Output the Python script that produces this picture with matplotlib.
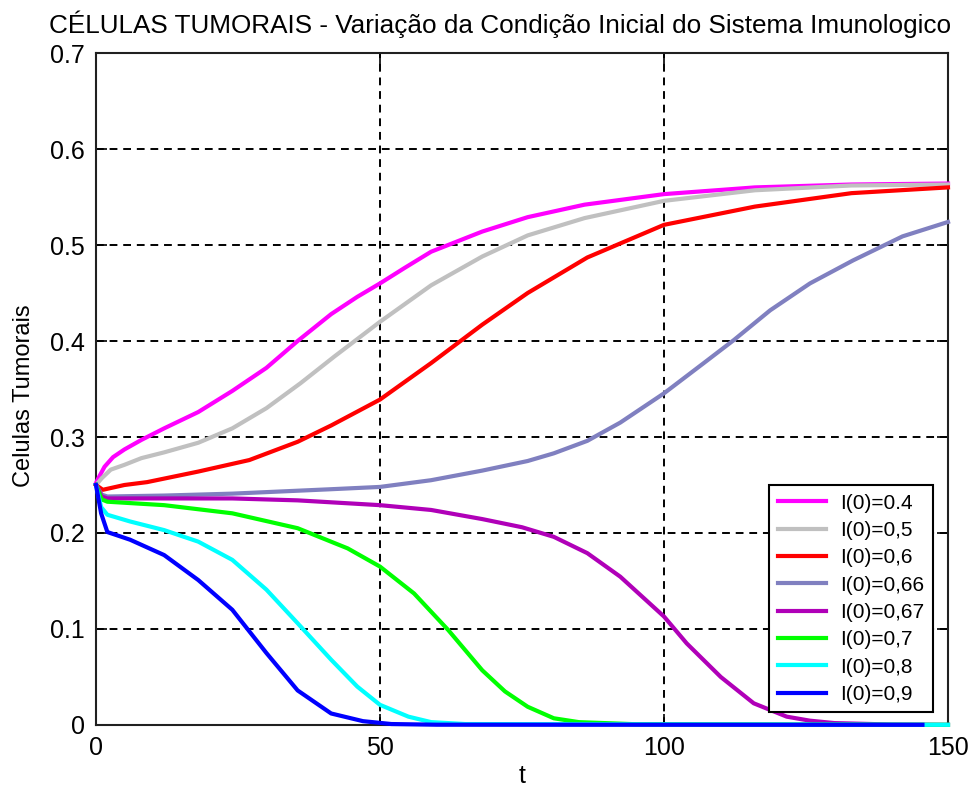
import matplotlib
matplotlib.use('Agg')
import matplotlib.pyplot as plt

plt.rcParams['font.family'] = ['Liberation Sans', 'DejaVu Sans']

# Celulas tumorais T(t) para varias condicoes iniciais do sistema imunologico I(0)
t_04 = [0, 0.5, 1.5, 3, 5, 8, 12, 18, 24, 30, 35.5, 41.4, 46, 50, 54.3, 59, 68, 76, 86, 100,
        116, 133, 150]
T_04 = [0.252, 0.258, 0.269, 0.279, 0.287, 0.297, 0.309, 0.326, 0.348, 0.372, 0.400, 0.428,
        0.446, 0.460, 0.476, 0.493, 0.514, 0.529, 0.542, 0.553, 0.560, 0.563, 0.564]

t_05 = [0, 1, 2.6, 5, 8, 12, 18, 24, 30, 36, 42, 50, 59, 68, 76, 86, 100, 116, 133, 150]
T_05 = [0.250, 0.257, 0.266, 0.271, 0.278, 0.284, 0.294, 0.309, 0.330, 0.356, 0.384, 0.420,
        0.458, 0.488, 0.510, 0.528, 0.546, 0.557, 0.562, 0.563]

t_06 = [0, 1.2, 5, 9, 18, 27, 35.5, 41.4, 50, 59, 68, 76, 86.5, 100, 116, 133, 150]
T_06 = [0.250, 0.245, 0.250, 0.253, 0.264, 0.276, 0.295, 0.312, 0.339, 0.377, 0.417, 0.450,
        0.487, 0.521, 0.540, 0.554, 0.560]

t_066 = [0, 1, 2, 12, 24, 41, 50, 59, 68, 76, 80.6, 86.5, 92.3, 100, 107, 112.3, 118.7,
         125.7, 133.3, 142, 150]
T_066 = [0.250, 0.240, 0.238, 0.239, 0.241, 0.2455, 0.248, 0.255, 0.265, 0.275, 0.283, 0.296,
         0.315, 0.3455, 0.377, 0.401, 0.432, 0.460, 0.484, 0.509, 0.524]

t_067 = [0, 1, 2, 24, 35.5, 50, 59, 68, 75, 80.6, 86.5, 92.3, 100, 104, 110, 115.8, 121.6,
         125.7, 130, 140, 150]
T_067 = [0.250, 0.238, 0.236, 0.236, 0.234, 0.229, 0.224, 0.2145, 0.206, 0.196, 0.179, 0.1545,
         0.113, 0.085, 0.050, 0.0226, 0.0087, 0.0045, 0.002, 0.0005, 0.0002]

t_07 = [0, 1, 2, 12, 24, 35.5, 44.3, 50, 56, 62, 68, 72, 76, 80.6, 85, 95, 150]
T_07 = [0.250, 0.235, 0.2326, 0.229, 0.2205, 0.205, 0.184, 0.165, 0.137, 0.099, 0.057, 0.035,
        0.019, 0.007, 0.003, 0.0008, 0.0002]

t_08 = [0, 0.9, 2, 6, 12, 18, 24, 30, 35.5, 41.4, 46, 50, 55, 59, 65, 150]
T_08 = [0.250, 0.227, 0.219, 0.212, 0.203, 0.191, 0.172, 0.141, 0.106, 0.068, 0.040, 0.021,
        0.0087, 0.003, 0.001, 0.0002]

t_09 = [0, 0.9, 2, 6, 12, 18, 24, 30, 35.5, 41.4, 47, 52, 60, 145.5]
T_09 = [0.250, 0.2205, 0.201, 0.193, 0.177, 0.151, 0.120, 0.075, 0.036, 0.012, 0.004, 0.001,
        0.0003, 0.0002]

labels = ['I(0)=0.4', 'I(0)=0,5', 'I(0)=0,6', 'I(0)=0,66', 'I(0)=0,67',
          'I(0)=0,7', 'I(0)=0,8', 'I(0)=0,9']
cores = ['#ff00ff', '#c0c0c0', '#ff0000', '#8080c0', '#b000b8',
         '#00ff00', '#00ffff', '#0000ff']
series = [(t_04, T_04), (t_05, T_05), (t_06, T_06), (t_066, T_066), (t_067, T_067),
          (t_07, T_07), (t_08, T_08), (t_09, T_09)]

fig = plt.figure(figsize=(9.71, 7.89), dpi=100)
ax = fig.add_axes([96/971, 1 - 725/789, (948-96)/971, (725-53)/789])

for (t, T), c, lab in zip(series, cores, labels):
    ax.plot(t, T, color=c, lw=3, label=lab, clip_on=False, zorder=3)

ax.set_xlim(0, 150)
ax.set_ylim(0, 0.7)
ax.set_xticks([0, 50, 100, 150])
ax.set_yticks([0, 0.1, 0.2, 0.3, 0.4, 0.5, 0.6, 0.7])
ax.set_yticklabels(['0', '0.1', '0.2', '0.3', '0.4', '0.5', '0.6', '0.7'])
ax.grid(True, color='black', linestyle=(0, (4, 3)), lw=1.4)
ax.tick_params(direction='in', length=8, width=1.2, top=True, right=True,
               labelsize=18, pad=8)
for s in ax.spines.values():
    s.set_linewidth(1.5)
    s.set_color('#202020')

fig.text(500/971, 1 - 33/789,
         'CÉLULAS TUMORAIS - Variação da Condição Inicial do Sistema Imunologico',
         fontsize=18.8, ha='center', va='baseline')
ax.set_xlabel('t', fontsize=18, labelpad=3)
ax.set_ylabel('Celulas Tumorais', fontsize=17)
ax.yaxis.set_label_coords(-0.072, 0.49)

leg = ax.legend(loc='lower right', bbox_to_anchor=(0.982, 0.019), borderaxespad=0,
                fontsize=15, fancybox=False, edgecolor='black', framealpha=1,
                handlelength=2.3, handletextpad=0.7, labelspacing=0.4,
                borderpad=0.4)
leg.get_frame().set_linewidth(1.5)

plt.savefig('out.png', dpi=100)
